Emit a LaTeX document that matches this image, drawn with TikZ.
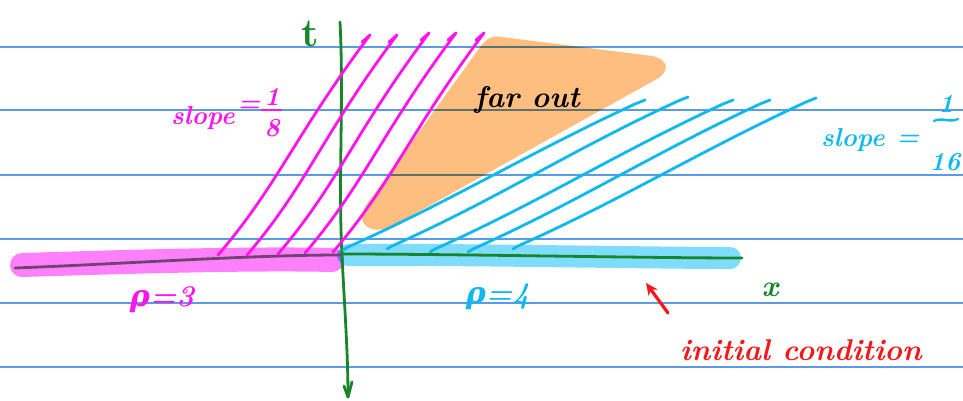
\documentclass[tikz,border=0pt]{standalone}
\usepackage{fontspec}
\newfontfamily\grk{DejaVu Serif}
\usetikzlibrary{arrows.meta}
\definecolor{rulec}{HTML}{5A9BE6}
\definecolor{mag}{HTML}{FF14F0}
\definecolor{maghl}{HTML}{FF80FA}
\definecolor{cyn}{HTML}{10B8F0}
\definecolor{cynhl}{HTML}{80DCFC}
\definecolor{grn}{HTML}{17862A}
\definecolor{fanc}{HTML}{FDBE80}
\definecolor{purp}{HTML}{704470}
\definecolor{redc}{HTML}{F51818}
\tikzset{
  rule/.style={rulec, line width=1.6pt},
  magline/.style={mag, line width=2.8pt},
  cynline/.style={cyn, line width=2.8pt},
  axis/.style={grn, line width=2.8pt},
  hand/.style={font=\bfseries\itshape\fontsize{30}{32}\selectfont, inner sep=0pt},
  small/.style={font=\bfseries\itshape\fontsize{26}{28}\selectfont, inner sep=0pt},
}
\begin{document}
\begin{tikzpicture}[x=1pt,y=-1pt,line cap=round,line join=round]
\useasboundingbox (0,0) rectangle (963,400);
\fill[white] (0,0) rectangle (963,400);
% ruled lines
\foreach \y in {47,110,175,239,303,367} \draw[rule] (0,\y) -- (963,\y);
% fan
\begin{scope}[blend mode=multiply]
\fill[fanc] (372,229) .. controls (358,224) and (360,212) .. (370,200) -- (478,50)
  .. controls (486,38) and (492,35) .. (502,37) -- (652,56)
  .. controls (670,60) and (670,72) .. (655,80) -- (400,222)
  .. controls (390,228) and (382,231) .. (372,229) -- cycle;
% highlights
\draw[maghl, line width=24pt] (22,265) .. controls (120,262) and (250,258) .. (332,260);
\draw[cynhl, line width=22pt] (348,255) .. controls (450,254) and (650,258) .. (730,258);
\end{scope}
% dark line on magenta
\draw[purp, line width=2.8pt] (15,268) .. controls (120,264) and (250,255) .. (340,255);
% x axis
\draw[axis] (343,254) .. controls (450,254) and (650,258) .. (742,258);
% t axis
\draw[axis] (340,22) .. controls (344,100) and (338,180) .. (342,255)
  .. controls (344,300) and (348,350) .. (348,397);
\draw[axis] (344,386) -- (348,397) -- (352,382);
% magenta characteristic lines
\foreach \a/\b/\c/\d in {218/255/370/35, 247/255/397/35, 278/254/429/33, 305/253/456/33, 333/252/484/33}{
  \draw[magline] (\a,\b) .. controls (\a+60,\b-70) and (\c-75,\d+100) .. (\c,\d) -- (\c-8,\d+7);
}
% cyan characteristic lines
\foreach \a/\b/\c/\d in {343/250/645/100, 387/249/688/97, 430/252/733/100, 468/252/770/100, 513/249/816/98}{
  \draw[cynline] (\a,\b) -- (\a+5,\b-3) .. controls (\a+110,\b-50) and (\c-120,\d+55) .. (\c-10,\d+4) -- (\c,\d);
}
% labels
\node[hand, grn, font=\bfseries\fontsize{40}{42}\selectfont] (tlab) at (310,34) {t};
\node[hand, grn] (xlab) at (770,290) {x};
% slope 1/8
\node[small, mag, anchor=west] (s8) at (171,118) {slope};
\node[small, mag] (s8e) at (249,106) {=};
\node[small, mag] (s8n) at (272,97) {1};
\node[small, mag] (s8d) at (272,128) {8};
\draw[mag, line width=2.4pt] (262,110) -- (281,110);
% slope 1/16
\node[small, cyn, anchor=west] (s16) at (821,140) {slope};
\node[small, cyn] (s16e) at (908,140) {=};
\node[small, cyn] (s16n) at (946,104) {1};
\node[small, cyn] (s16d) at (945,162) {16};
\draw[cyn, line width=2.4pt] (934,121) .. controls (942,117) and (950,123) .. (958,119);
\node[hand] (fan) at (527,100) {far out};
\node[hand, mag] (r3) at (162,300) {{\grk\bfseries ρ}=3};
\node[hand, cyn] (r4) at (498,297) {{\grk\bfseries ρ}=4};
\node[hand, redc, anchor=west] (ic) at (680,350) {initial condition};
\coordinate (tip) at (646,283);
\draw[redc, line width=3.2pt, -{Stealth[length=12pt,width=11pt]}] (668,313) -- (tip);
\end{tikzpicture}
\end{document}
